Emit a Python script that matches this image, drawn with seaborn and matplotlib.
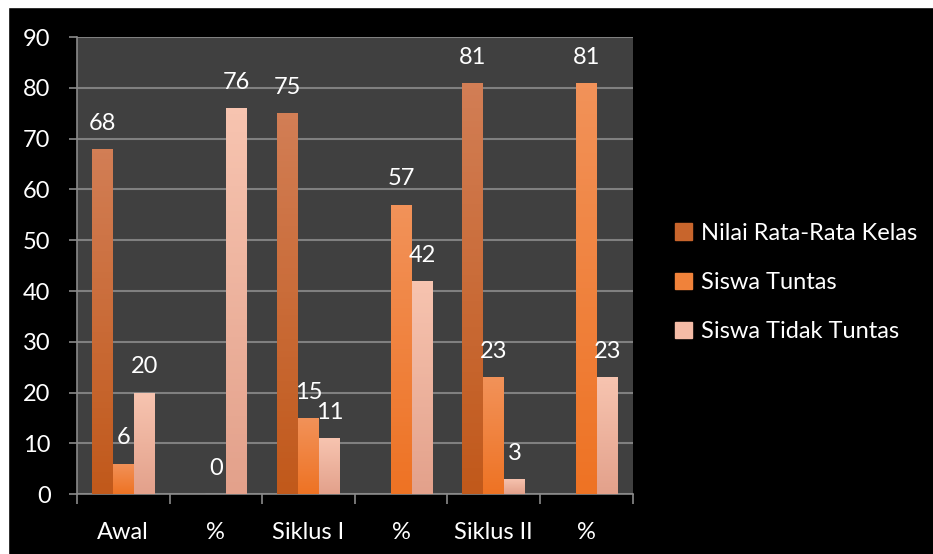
import numpy as np
import pandas as pd
import matplotlib
matplotlib.use("Agg")
import matplotlib.pyplot as plt
import matplotlib.colors as mcolors
from matplotlib.patches import Rectangle
import seaborn as sns

categories = ["Awal", "%", "Siklus I", "%", "Siklus II", "%"]
series = ["Nilai Rata-Rata Kelas", "Siswa Tuntas", "Siswa Tidak Tuntas"]
nilai = [68, np.nan, 75, np.nan, 81, np.nan]
tuntas = [6, 0, 15, 57, 23, 81]
tidak_tuntas = [20, 76, 11, 42, 3, 23]
yticks = [0, 10, 20, 30, 40, 50, 60, 70, 80, 90]

# gradient colours (top, bottom) per series
grad = {
    "Nilai Rata-Rata Kelas": ("#D27E55", "#C1591B"),
    "Siswa Tuntas": ("#F29259", "#EE7324"),
    "Siswa Tidak Tuntas": ("#F7C4B0", "#E3A18B"),
}
legend_col = {
    "Nilai Rata-Rata Kelas": "#C8652C",
    "Siswa Tuntas": "#F0823A",
    "Siswa Tidak Tuntas": "#F4BBA6",
}

pos = [f"{i}" for i in range(len(categories))]
rows = []
for s, vals in zip(series, [nilai, tuntas, tidak_tuntas]):
    for p, v in zip(pos, vals):
        rows.append({"pos": p, "series": s, "value": v})
df = pd.DataFrame(rows)

sns.set_theme(style="dark")
plt.rcParams["font.family"] = ["Lato", "DejaVu Sans"]

fig = plt.figure(figsize=(9.33, 5.54), dpi=100, facecolor="black")
ax = fig.add_axes([0.0825, 0.108, 0.5955, 0.825])
ax.set_facecolor("#404040")

sns.barplot(data=df, x="pos", y="value", hue="series", order=pos,
            hue_order=series, palette=legend_col, width=0.68, ax=ax,
            legend=False, saturation=1, errorbar=None)

ax.set_xlim(-0.5, len(categories) - 0.5)
ax.set_ylim(0, 90)

# gradient fill of each bar
for cont, s in zip(ax.containers, series):
    top, bot = grad[s]
    cmap = mcolors.LinearSegmentedColormap.from_list(s, [bot, top])
    for patch in cont.patches:
        x0, y0 = patch.get_x(), patch.get_y()
        w, h = patch.get_width(), patch.get_height()
        if not np.isfinite(h) or h <= 0:
            continue
        g = np.linspace(0, 1, 64).reshape(-1, 1)
        im = ax.imshow(g, cmap=cmap, origin="lower", aspect="auto",
                       extent=[x0, x0 + w, y0, y0 + h], zorder=3)
        im.set_clip_path(patch)
        patch.set_edgecolor("none")
    ax.bar_label(cont, fmt="%g", padding=11, color="white", fontsize=17)

ax.set_xlim(-0.5, len(categories) - 0.5)
ax.set_ylim(0, 90)

ax.set_yticks(yticks)
ax.set_xticks(range(len(categories)))
ax.set_xticklabels(categories)
ax.set_xticks(np.arange(-0.5, len(categories), 1.0), minor=True)
ax.set_xlabel("")
ax.set_ylabel("")

ax.grid(axis="y", color="#808080", linewidth=1.5)
ax.grid(axis="x", visible=False)
ax.set_axisbelow(True)

for side in ["top", "right"]:
    ax.spines[side].set_visible(False)
for side in ["left", "bottom"]:
    ax.spines[side].set_visible(True)
    ax.spines[side].set_color("#8a8a8a")
    ax.spines[side].set_linewidth(1.2)

ax.tick_params(axis="y", which="major", left=True, length=6, width=1.2,
               color="#8a8a8a", labelcolor="white", labelsize=17, pad=13)
ax.tick_params(axis="x", which="major", bottom=False, length=0,
               labelcolor="white", labelsize=17, pad=20)
ax.tick_params(axis="x", which="minor", bottom=True, length=7, width=1.2,
               color="#8a8a8a")

handles = [Rectangle((0, 0), 1, 1, color=legend_col[s]) for s in series]
fig.legend(handles, series, loc="center left", bbox_to_anchor=(0.701, 0.49),
           frameon=False, labelcolor="white", fontsize=17,
           handlelength=0.7, handleheight=0.7, handletextpad=0.4,
           labelspacing=1.2)

# thin white border strips at top and left of the picture
fig.add_artist(Rectangle((0, 1 - 7 / 554), 1, 7 / 554, transform=fig.transFigure,
                         color="white", zorder=10))
fig.add_artist(Rectangle((0, 0), 8 / 933, 1, transform=fig.transFigure,
                         color="white", zorder=10))

fig.savefig("out.png", dpi=100, facecolor="black")
